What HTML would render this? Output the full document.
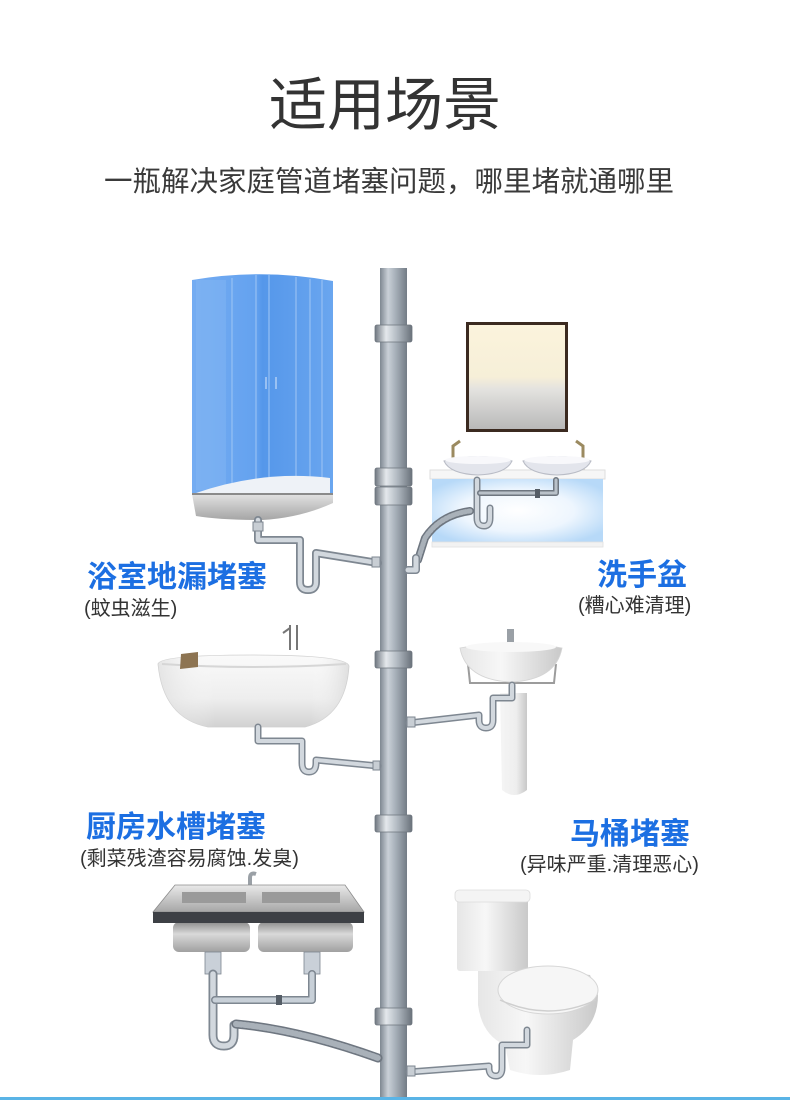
<!DOCTYPE html>
<html>
<head>
<meta charset="utf-8">
<style>
  html,body{margin:0;padding:0;background:#fff;}
  #wrap{position:relative;width:790px;height:1100px;overflow:hidden;background:#fff;
    font-family:"Liberation Sans","Noto Sans CJK SC",sans-serif;}
  .t{position:absolute;white-space:nowrap;line-height:1;}
  .title{left:-10px;width:790px;text-align:center;top:77px;font-size:58px;color:#333;}
  .sub{left:-6px;width:790px;text-align:center;top:168px;font-size:28.5px;color:#3a3a3a;}
  .lab{font-size:30px;font-weight:bold;color:#1c6fe2;}
  .note{font-size:20px;color:#333;}
  svg{position:absolute;left:0;top:0;}
</style>
</head>
<body>
<div id="wrap">
<svg width="790" height="1100" viewBox="0 0 790 1100" xmlns="http://www.w3.org/2000/svg">
  <defs>
    <linearGradient id="pipe" x1="0" x2="1" y1="0" y2="0">
      <stop offset="0" stop-color="#7e8791"/>
      <stop offset="0.3" stop-color="#c9d0d7"/>
      <stop offset="0.55" stop-color="#aab3bc"/>
      <stop offset="1" stop-color="#737c86"/>
    </linearGradient>
    <linearGradient id="coup" x1="0" x2="1" y1="0" y2="0">
      <stop offset="0" stop-color="#6f7780"/>
      <stop offset="0.3" stop-color="#e4e8ec"/>
      <stop offset="0.6" stop-color="#b2bac2"/>
      <stop offset="1" stop-color="#6a727b"/>
    </linearGradient>
    <linearGradient id="glass" x1="0" x2="1" y1="0" y2="0">
      <stop offset="0" stop-color="#74acf2"/>
      <stop offset="0.45" stop-color="#64a2ef"/>
      <stop offset="0.5" stop-color="#5597ea"/>
      <stop offset="1" stop-color="#6aa6ef"/>
    </linearGradient>
    <linearGradient id="tray" x1="0" x2="0" y1="0" y2="1">
      <stop offset="0" stop-color="#e2e2e2"/>
      <stop offset="1" stop-color="#a5a5a5"/>
    </linearGradient>
    <linearGradient id="mirror" x1="0" x2="0" y1="0" y2="1">
      <stop offset="0" stop-color="#fbf3dc"/>
      <stop offset="0.5" stop-color="#f6efd8"/>
      <stop offset="0.62" stop-color="#e3e2df"/>
      <stop offset="1" stop-color="#b9b9b9"/>
    </linearGradient>
    <radialGradient id="cab" cx="0.5" cy="0.5" r="0.6">
      <stop offset="0" stop-color="#ffffff"/>
      <stop offset="0.55" stop-color="#eef6fe"/>
      <stop offset="1" stop-color="#b7d9f8"/>
    </radialGradient>
    <linearGradient id="tub" x1="0" x2="0" y1="0" y2="1">
      <stop offset="0" stop-color="#fafafa"/>
      <stop offset="0.6" stop-color="#eeeeee"/>
      <stop offset="1" stop-color="#d2d2d2"/>
    </linearGradient>
    <linearGradient id="tubh" x1="0" x2="1" y1="0" y2="0">
      <stop offset="0" stop-color="#d8d8d8" stop-opacity="0.6"/>
      <stop offset="0.3" stop-color="#ffffff" stop-opacity="0"/>
      <stop offset="0.8" stop-color="#ffffff" stop-opacity="0"/>
      <stop offset="1" stop-color="#cfcfcf" stop-opacity="0.6"/>
    </linearGradient>
    <linearGradient id="steel" x1="0" x2="0" y1="0" y2="1">
      <stop offset="0" stop-color="#e9e9e9"/>
      <stop offset="1" stop-color="#a6a6a6"/>
    </linearGradient>
    <linearGradient id="bowl" x1="0" x2="0" y1="0" y2="1">
      <stop offset="0" stop-color="#8d8d8d"/>
      <stop offset="0.4" stop-color="#d9d9d9"/>
      <stop offset="1" stop-color="#a0a0a0"/>
    </linearGradient>
    <linearGradient id="porc" x1="0" x2="1" y1="0" y2="0">
      <stop offset="0" stop-color="#e6e6e6"/>
      <stop offset="0.4" stop-color="#f7f7f7"/>
      <stop offset="1" stop-color="#c9c9c9"/>
    </linearGradient>
    <linearGradient id="ped" x1="0" x2="1" y1="0" y2="0">
      <stop offset="0" stop-color="#f5f5f5"/>
      <stop offset="0.6" stop-color="#eeeeee"/>
      <stop offset="1" stop-color="#c8c8c8"/>
    </linearGradient>
  </defs>

  <!-- ===== main stack pipe ===== -->
  <rect x="380" y="268" width="27" height="832" fill="url(#pipe)"/>
  <g fill="url(#coup)" stroke="#6d757e" stroke-width="0.8">
    <rect x="375" y="325" width="37" height="17" rx="2"/>
    <rect x="375" y="468" width="37" height="18" rx="2"/>
    <rect x="375" y="487" width="37" height="18" rx="2"/>
    <rect x="375" y="651" width="37" height="17" rx="2"/>
    <rect x="375" y="815" width="37" height="17" rx="2"/>
    <rect x="375" y="1008" width="37" height="17" rx="2"/>
  </g>

  <!-- ===== shower enclosure ===== -->
  <path d="M192,280 Q262,268 333,281 L333,494 L192,494 Z" fill="url(#glass)"/>
  <g stroke="#9cc4f4" stroke-width="1.2" opacity="0.9">
    <line x1="232" y1="278" x2="232" y2="492"/>
    <line x1="256" y1="275" x2="256" y2="492"/>
    <line x1="269" y1="275" x2="269" y2="492"/>
    <line x1="296" y1="277" x2="296" y2="492"/>
    <line x1="310" y1="279" x2="310" y2="492"/>
    <line x1="322" y1="280" x2="322" y2="492"/>
  </g>
  <rect x="196" y="280" width="30" height="210" fill="#8dbcf3" opacity="0.35"/>
  <g stroke="#c5dcf8" stroke-width="1.2" fill="none">
    <path d="M266,377 v12"/><path d="M276,377 v12"/>
  </g>
  <path d="M196,493 Q262,470 330,478 L330,494 L196,494 Z" fill="#eef2f7"/>
  <path d="M192,494 L333,494 L333,503 Q300,518 262,520 Q220,520 196,516 Z" fill="url(#tray)"/>
  <path d="M192,494 L333,494" stroke="#8a8a8a" stroke-width="2"/>

  <!-- shower drain -->
  <g fill="none" stroke-linecap="round" stroke-linejoin="round">
    <path d="M258,520 L258,540 L300,540 L300,582 Q300,590 308,590 Q316,590 316,582 L316,553 L378,563" stroke="#7e8791" stroke-width="8"/>
    <path d="M258,520 L258,540 L300,540 L300,582 Q300,590 308,590 Q316,590 316,582 L316,553 L378,563" stroke="#d2d8de" stroke-width="4.5"/>
  </g>
  <rect x="253" y="522" width="10" height="9" fill="#c8ced4" stroke="#7e8791"/>
  <rect x="372" y="557" width="8" height="10" fill="#c8ced4" stroke="#7e8791"/>

  <!-- ===== vanity ===== -->
  <rect x="466" y="322" width="102" height="110" fill="#3b2a20"/>
  <rect x="469" y="325" width="96" height="104" fill="url(#mirror)"/>
  <path d="M453,470 L453,446 L460,441" stroke="#9b8a60" stroke-width="3" fill="none"/>
  <path d="M583,470 L583,446 L576,441" stroke="#9b8a60" stroke-width="3" fill="none"/>
  <rect x="430" y="470" width="175" height="9" fill="#f6f6f6" stroke="#dedede" stroke-width="1"/>
  <rect x="432" y="479" width="171" height="63" fill="url(#cab)"/>
  <rect x="432" y="542" width="171" height="5" fill="#f2f2f2" stroke="#e0e0e0" stroke-width="0.8"/>
  <path d="M444,461 Q478,452 512,461 Q506,474 478,475 Q450,474 444,461Z" fill="#e3e5ec" stroke="#b9bcc6" stroke-width="1"/>
  <ellipse cx="478" cy="460" rx="33" ry="4" fill="#f8f8fb"/>
  <path d="M523,461 Q557,452 591,461 Q585,474 557,475 Q529,474 523,461Z" fill="#e3e5ec" stroke="#b9bcc6" stroke-width="1"/>
  <ellipse cx="557" cy="460" rx="33" ry="4" fill="#f8f8fb"/>
  <g fill="none" stroke-linecap="round" stroke-linejoin="round">
    <path d="M477,480 L477,518 Q477,526 484,526 Q490,526 490,518 L490,508" stroke="#7e8791" stroke-width="7"/>
    <path d="M477,480 L477,518 Q477,526 484,526 Q490,526 490,518 L490,508" stroke="#d2d8de" stroke-width="4"/>
    <path d="M480,493 L556,493 L556,480" stroke="#6e7680" stroke-width="6"/>
    <path d="M480,493 L556,493 L556,480" stroke="#b9c1c9" stroke-width="3"/>
    <path d="M470,511 Q440,515 425,538 L418,560" stroke="#6e7680" stroke-width="8"/>
    <path d="M470,511 Q440,515 425,538 L418,560" stroke="#a9b1b9" stroke-width="5" stroke-dasharray="2 2"/>
    <path d="M416,558 L416,570 L408,570" stroke="#7e8791" stroke-width="8"/>
    <path d="M416,558 L416,570 L408,570" stroke="#d2d8de" stroke-width="5"/>
  </g>
  <rect x="535" y="489" width="5" height="9" fill="#555d66"/>

  <!-- ===== bathtub ===== -->
  <path d="M290,650 L290,625 M297,650 L297,625 M283,633 L290,628" stroke="#777" stroke-width="2" fill="none"/>
  <path d="M158,664 Q160,655 252,655 Q347,655 349,666 Q346,716 305,727 L208,727 Q163,718 158,664Z" fill="url(#tub)" stroke="#d0d0d0" stroke-width="0.8"/>
  <path d="M158,664 Q160,655 252,655 Q347,655 349,666 Q346,716 305,727 L208,727 Q163,718 158,664Z" fill="url(#tubh)"/>
  <path d="M162,664 Q252,670 346,664" stroke="#d6d6d6" stroke-width="2" fill="none"/>
  <path d="M181,654 L198,652 L198,667 L180,669Z" fill="#8d7452"/>
  <g fill="none" stroke-linecap="round" stroke-linejoin="round">
    <path d="M258,727 L258,741 L302,741 L302,763 Q302,772 309,772 Q316,772 316,763 L316,760 L378,766" stroke="#7e8791" stroke-width="7"/>
    <path d="M258,727 L258,741 L302,741 L302,763 Q302,772 309,772 Q316,772 316,763 L316,760 L378,766" stroke="#d2d8de" stroke-width="4"/>
  </g>
  <rect x="373" y="761" width="7" height="9" fill="#c8ced4" stroke="#7e8791"/>

  <!-- ===== pedestal sink ===== -->
  <rect x="507" y="629" width="7" height="14" fill="#9aa0a6"/>
  <path d="M500,693 L527,693 L527,790 Q514,800 502,790 Z" fill="url(#ped)"/>
  <path d="M468,664 L470,683 L554,683 L556,664" stroke="#9c9c9c" stroke-width="2" fill="none"/>
  <path d="M460,648 Q511,638 562,648 Q556,680 511,682 Q466,680 460,648Z" fill="url(#porc)" stroke="#d5d5d5" stroke-width="0.8"/>
  <ellipse cx="511" cy="647" rx="45" ry="5" fill="#f8f8f8"/>
  <g fill="none" stroke-linecap="round" stroke-linejoin="round">
    <path d="M512,685 L512,698 L493,698 L493,720 Q493,728 486,728 Q479,728 479,720 L479,715 L409,723" stroke="#7e8791" stroke-width="7"/>
    <path d="M512,685 L512,698 L493,698 L493,720 Q493,728 486,728 Q479,728 479,720 L479,715 L409,723" stroke="#d2d8de" stroke-width="4"/>
  </g>
  <rect x="407" y="717" width="8" height="10" fill="#c8ced4" stroke="#7e8791"/>

  <!-- ===== kitchen sink ===== -->
  <path d="M250,905 L250,878 Q250,872 256,874" stroke="#9aa0a6" stroke-width="4" fill="none"/>
  <rect x="173" y="922" width="77" height="30" rx="6" fill="url(#bowl)"/>
  <rect x="258" y="922" width="95" height="30" rx="6" fill="url(#bowl)"/>
  <path d="M175,885 L345,885 L364,912 L153,912 Z" fill="url(#steel)" stroke="#8c8c8c" stroke-width="0.8"/>
  <rect x="182" y="892" width="64" height="11" fill="#9a9a9a"/>
  <rect x="262" y="892" width="78" height="11" fill="#9a9a9a"/>
  <rect x="153" y="912" width="211" height="11" fill="#3d4045"/>
  <g fill="#c9d0d8" stroke="#7d8690" stroke-width="0.8">
    <rect x="205" y="952" width="16" height="22"/>
    <rect x="304" y="952" width="16" height="22"/>
  </g>
  <g fill="none" stroke-linecap="round" stroke-linejoin="round">
    <path d="M213,974 L213,1035 Q213,1046 224,1046 Q234,1046 234,1035 L234,1025" stroke="#7e8791" stroke-width="9"/>
    <path d="M213,974 L213,1035 Q213,1046 224,1046 Q234,1046 234,1035 L234,1025" stroke="#d2d8de" stroke-width="5.5"/>
    <path d="M215,1000 L312,1000 L312,974" stroke="#7e8791" stroke-width="8"/>
    <path d="M215,1000 L312,1000 L312,974" stroke="#c8d0d8" stroke-width="5"/>
    <path d="M236,1024 Q300,1030 378,1058" stroke="#6e7680" stroke-width="9"/>
    <path d="M236,1024 Q300,1030 378,1058" stroke="#a9b1b9" stroke-width="6" stroke-dasharray="2 2"/>
  </g>
  <rect x="276" y="995" width="6" height="10" fill="#555d66"/>

  <!-- ===== toilet ===== -->
  <path d="M478,968 L478,1005 Q482,1035 505,1045 L510,1070 Q540,1080 570,1070 L573,1040 Q598,1025 598,995 L590,975 L528,968 Z" fill="url(#porc)"/>
  <rect x="457" y="895" width="71" height="76" rx="3" fill="url(#porc)"/>
  <rect x="455" y="890" width="75" height="12" rx="4" fill="#f4f4f4" stroke="#dcdcdc" stroke-width="0.8"/>
  <ellipse cx="548" cy="990" rx="50" ry="24" fill="#f6f6f6" stroke="#d6d6d6" stroke-width="1"/>
  <path d="M500,1000 Q548,1022 596,1000" stroke="#cfcfcf" stroke-width="1.5" fill="none"/>
  <g fill="none" stroke-linecap="round" stroke-linejoin="round">
    <path d="M527,1030 L527,1045 L502,1045 L502,1068 Q502,1076 496,1076 Q489,1076 489,1068 L489,1066 L409,1072" stroke="#7e8791" stroke-width="7"/>
    <path d="M527,1030 L527,1045 L502,1045 L502,1068 Q502,1076 496,1076 Q489,1076 489,1068 L489,1066 L409,1072" stroke="#d2d8de" stroke-width="4"/>
  </g>
  <rect x="407" y="1066" width="8" height="10" fill="#c8ced4" stroke="#7e8791"/>

  <rect x="0" y="1097" width="790" height="3" fill="#5ab4e6"/>
</svg>

<div class="t title">适用场景</div>
<div class="t sub">一瓶解决家庭管道堵塞问题，哪里堵就通哪里</div>

<div class="t lab" style="left:87px;top:563px;">浴室地漏堵塞</div>
<div class="t note" style="left:84px;top:599px;">(蚊虫滋生)</div>

<div class="t lab" style="left:597px;top:561px;">洗手盆</div>
<div class="t note" style="left:578px;top:596px;">(糟心难清理)</div>

<div class="t lab" style="left:86px;top:813px;">厨房水槽堵塞</div>
<div class="t note" style="left:80px;top:849px;">(剩菜残渣容易腐蚀.发臭)</div>

<div class="t lab" style="left:570px;top:820px;">马桶堵塞</div>
<div class="t note" style="left:520px;top:855px;">(异味严重.清理恶心)</div>
</div>
</body>
</html>
